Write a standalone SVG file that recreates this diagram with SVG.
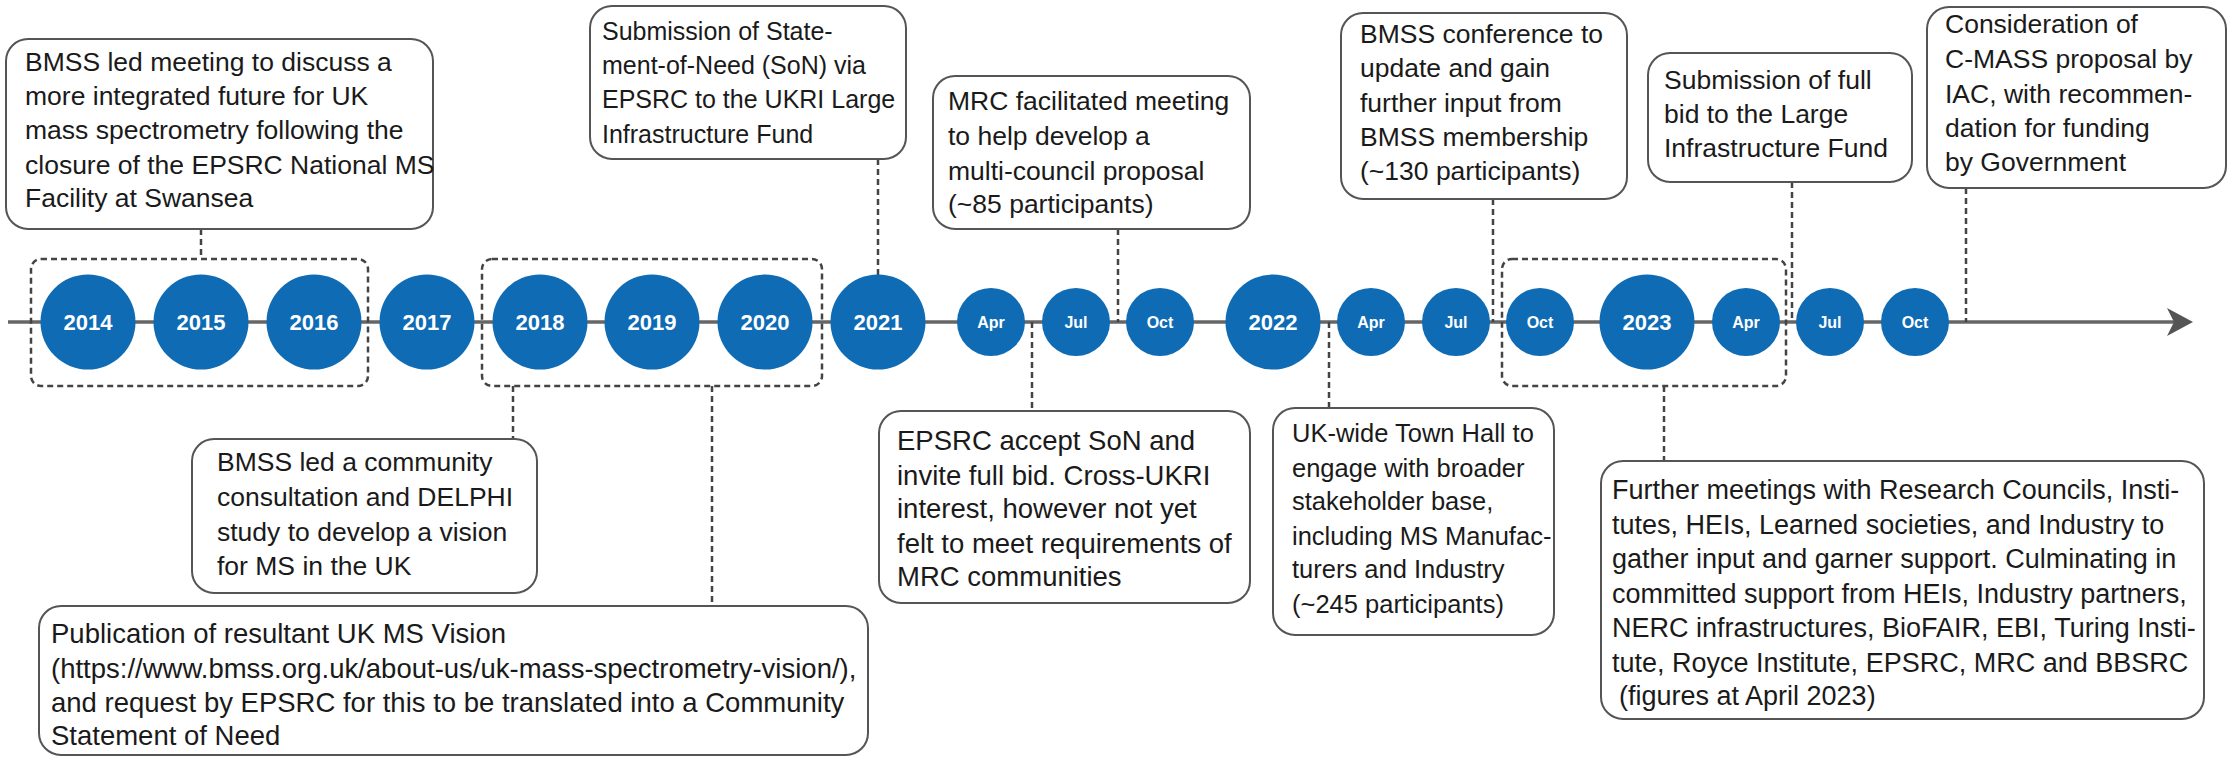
<svg xmlns="http://www.w3.org/2000/svg" width="2234" height="757" viewBox="0 0 2234 757">
<style>
.box{fill:#fff;stroke:#555;stroke-width:2}
.t{font-family:"Liberation Sans",Arial,sans-serif;font-size:26.5px;fill:#1a1a1a}
.yc{fill:#0e6bb4}
.yt{font-family:"Liberation Sans",Arial,sans-serif;font-weight:bold;fill:#fff;text-anchor:middle}
.y{font-size:22px}
.m{font-size:16px}
.dash{fill:none;stroke:#444;stroke-width:2.5;stroke-dasharray:6 4}
.axis{stroke:#666;stroke-width:3.5}
</style>
<g id="axis">
<line class="axis" x1="8" y1="322" x2="2176" y2="322"/>
<polygon points="2193,322 2167,308 2174,322 2167,336" fill="#555"/>
</g>
<g id="connectors">
<rect class="dash" x="31" y="259" width="337" height="127" rx="10"/>
<rect class="dash" x="482" y="259" width="340" height="127" rx="10"/>
<rect class="dash" x="1502" y="259" width="284" height="127" rx="10"/>
<line class="dash" x1="201" y1="229" x2="201" y2="259"/>
<line class="dash" x1="513" y1="386" x2="513" y2="439"/>
<line class="dash" x1="712" y1="386" x2="712" y2="606"/>
<line class="dash" x1="878" y1="159" x2="878" y2="276"/>
<line class="dash" x1="1118" y1="229" x2="1118" y2="322"/>
<line class="dash" x1="1032" y1="322" x2="1032" y2="411"/>
<line class="dash" x1="1329" y1="322" x2="1329" y2="408"/>
<line class="dash" x1="1493" y1="199" x2="1493" y2="322"/>
<line class="dash" x1="1792" y1="182" x2="1792" y2="322"/>
<line class="dash" x1="1966" y1="188" x2="1966" y2="322"/>
<line class="dash" x1="1664" y1="386" x2="1664" y2="461"/>
</g>
<g id="y2014"><circle class="yc" cx="88" cy="322" r="47.5"/><text class="yt y" x="88" y="330">2014</text></g>
<g id="y2015"><circle class="yc" cx="201" cy="322" r="47.5"/><text class="yt y" x="201" y="330">2015</text></g>
<g id="y2016"><circle class="yc" cx="314" cy="322" r="47.5"/><text class="yt y" x="314" y="330">2016</text></g>
<g id="y2017"><circle class="yc" cx="427" cy="322" r="47.5"/><text class="yt y" x="427" y="330">2017</text></g>
<g id="y2018"><circle class="yc" cx="540" cy="322" r="47.5"/><text class="yt y" x="540" y="330">2018</text></g>
<g id="y2019"><circle class="yc" cx="652" cy="322" r="47.5"/><text class="yt y" x="652" y="330">2019</text></g>
<g id="y2020"><circle class="yc" cx="765" cy="322" r="47.5"/><text class="yt y" x="765" y="330">2020</text></g>
<g id="y2021"><circle class="yc" cx="878" cy="322" r="47.5"/><text class="yt y" x="878" y="330">2021</text></g>
<g id="m2021apr"><circle class="yc" cx="991" cy="322" r="34"/><text class="yt m" x="991" y="328">Apr</text></g>
<g id="m2021jul"><circle class="yc" cx="1076" cy="322" r="34"/><text class="yt m" x="1076" y="328">Jul</text></g>
<g id="m2021oct"><circle class="yc" cx="1160" cy="322" r="34"/><text class="yt m" x="1160" y="328">Oct</text></g>
<g id="y2022"><circle class="yc" cx="1273" cy="322" r="47.5"/><text class="yt y" x="1273" y="330">2022</text></g>
<g id="m2022apr"><circle class="yc" cx="1371" cy="322" r="34"/><text class="yt m" x="1371" y="328">Apr</text></g>
<g id="m2022jul"><circle class="yc" cx="1456" cy="322" r="34"/><text class="yt m" x="1456" y="328">Jul</text></g>
<g id="m2022oct"><circle class="yc" cx="1540" cy="322" r="34"/><text class="yt m" x="1540" y="328">Oct</text></g>
<g id="y2023"><circle class="yc" cx="1647" cy="322" r="47.5"/><text class="yt y" x="1647" y="330">2023</text></g>
<g id="m2023apr"><circle class="yc" cx="1746" cy="322" r="34"/><text class="yt m" x="1746" y="328">Apr</text></g>
<g id="m2023jul"><circle class="yc" cx="1830" cy="322" r="34"/><text class="yt m" x="1830" y="328">Jul</text></g>
<g id="m2023oct"><circle class="yc" cx="1915" cy="322" r="34"/><text class="yt m" x="1915" y="328">Oct</text></g>

<g id="box-bmss-meeting">
<rect class="box" x="6" y="39" width="427" height="190" rx="22"/>
<text class="t" x="25"><tspan x="25" y="71">BMSS led meeting to discuss a</tspan><tspan x="25" y="105">more integrated future for UK</tspan><tspan x="25" y="139">mass spectrometry following the</tspan><tspan x="25" y="174">closure of the EPSRC National MS</tspan><tspan x="25" y="207">Facility at Swansea</tspan></text>
</g>
<g id="box-son">
<rect class="box" x="590" y="6" width="316" height="153" rx="22"/>
<text class="t" style="font-size:25px"><tspan x="602" y="40">Submission of State-</tspan><tspan x="602" y="74">ment-of-Need (SoN) via</tspan><tspan x="602" y="108">EPSRC to the UKRI Large</tspan><tspan x="602" y="143">Infrastructure Fund</tspan></text>
</g>
<g id="box-mrc">
<rect class="box" x="933" y="76" width="317" height="153" rx="22"/>
<text class="t"><tspan x="948" y="110">MRC facilitated meeting</tspan><tspan x="948" y="145">to help develop a</tspan><tspan x="948" y="180">multi-council proposal</tspan><tspan x="948" y="213">(~85 participants)</tspan></text>
</g>
<g id="box-conference">
<rect class="box" x="1341" y="13" width="286" height="186" rx="22"/>
<text class="t"><tspan x="1360" y="43">BMSS conference to</tspan><tspan x="1360" y="77">update and gain</tspan><tspan x="1360" y="112">further input from</tspan><tspan x="1360" y="146">BMSS membership</tspan><tspan x="1360" y="180">(~130 participants)</tspan></text>
</g>
<g id="box-fullbid">
<rect class="box" x="1648" y="53" width="264" height="129" rx="22"/>
<text class="t"><tspan x="1664" y="89">Submission of full</tspan><tspan x="1664" y="123">bid to the Large</tspan><tspan x="1664" y="157">Infrastructure Fund</tspan></text>
</g>
<g id="box-iac">
<rect class="box" x="1927" y="7" width="299" height="181" rx="22"/>
<text class="t"><tspan x="1945" y="33">Consideration of</tspan><tspan x="1945" y="68">C-MASS proposal by</tspan><tspan x="1945" y="103">IAC, with recommen-</tspan><tspan x="1945" y="137">dation for funding</tspan><tspan x="1945" y="171">by Government</tspan></text>
</g>
<g id="box-delphi">
<rect class="box" x="192" y="439" width="345" height="154" rx="22"/>
<text class="t"><tspan x="217" y="471">BMSS led a community</tspan><tspan x="217" y="506">consultation and DELPHI</tspan><tspan x="217" y="541">study to develop a vision</tspan><tspan x="217" y="575">for MS in the UK</tspan></text>
</g>
<g id="box-vision">
<rect class="box" x="39" y="606" width="829" height="149" rx="22"/>
<text class="t" style="font-size:27.5px"><tspan x="51" y="643">Publication of resultant UK MS Vision</tspan><tspan x="51" y="678">(https://www.bmss.org.uk/about-us/uk-mass-spectrometry-vision/),</tspan><tspan x="51" y="712">and request by EPSRC for this to be translated into a Community</tspan><tspan x="51" y="745">Statement of Need</tspan></text>
</g>
<g id="box-accept">
<rect class="box" x="879" y="411" width="371" height="192" rx="22"/>
<text class="t" style="font-size:27.5px"><tspan x="897" y="450">EPSRC accept SoN and</tspan><tspan x="897" y="485">invite full bid. Cross-UKRI</tspan><tspan x="897" y="518">interest, however not yet</tspan><tspan x="897" y="553">felt to meet requirements of</tspan><tspan x="897" y="586">MRC communities</tspan></text>
</g>
<g id="box-townhall">
<rect class="box" x="1273" y="408" width="281" height="227" rx="22"/>
<text class="t" style="font-size:25.5px"><tspan x="1292" y="442">UK-wide Town Hall to</tspan><tspan x="1292" y="477">engage with broader</tspan><tspan x="1292" y="510">stakeholder base,</tspan><tspan x="1292" y="545">including MS Manufac-</tspan><tspan x="1292" y="578">turers and Industry</tspan><tspan x="1292" y="613">(~245 participants)</tspan></text>
</g>
<g id="box-further">
<rect class="box" x="1601" y="461" width="603" height="258" rx="22"/>
<text class="t" style="font-size:27px"><tspan x="1612" y="499">Further meetings with Research Councils, Insti-</tspan><tspan x="1612" y="534">tutes, HEIs, Learned societies, and Industry to</tspan><tspan x="1612" y="568">gather input and garner support. Culminating in</tspan><tspan x="1612" y="603">committed support from HEIs, Industry partners,</tspan><tspan x="1612" y="637">NERC infrastructures, BioFAIR, EBI, Turing Insti-</tspan><tspan x="1612" y="672">tute, Royce Institute, EPSRC, MRC and BBSRC</tspan><tspan x="1619" y="705">(figures at April 2023)</tspan></text>
</g>
</svg>
